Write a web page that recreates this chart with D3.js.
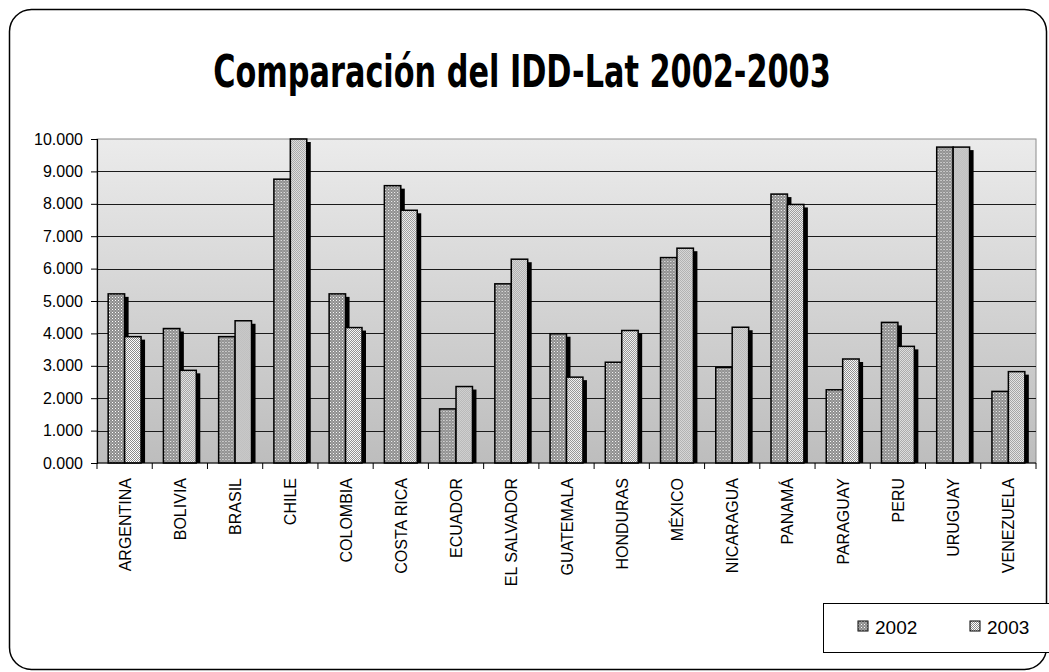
<!DOCTYPE html>
<html>
<head>
<meta charset="utf-8">
<script src="https://cdn.jsdelivr.net/npm/d3@7"></script>
<style>
  html, body { margin: 0; padding: 0; background: #fff; }
  svg { display: block; }
</style>
</head>
<body>
<svg id="chart" width="1049" height="672"></svg>
<script>
const countries = ['ARGENTINA', 'BOLIVIA', 'BRASIL', 'CHILE', 'COLOMBIA', 'COSTA RICA', 'ECUADOR',
    'EL SALVADOR', 'GUATEMALA', 'HONDURAS', 'MÉXICO', 'NICARAGUA', 'PANAMÁ', 'PARAGUAY', 'PERU',
    'URUGUAY', 'VENEZUELA'];
const years = ['2002', '2003'];
const idd2002 = [5.22, 4.15, 3.90, 8.76, 5.22, 8.56, 1.67, 5.53, 3.99, 3.11, 6.34, 2.95, 8.30, 2.26, 4.34, 9.75, 2.21];
const idd2003 = [3.90, 2.86, 4.39, 10.00, 4.18, 7.80, 2.36, 6.29, 2.65, 4.09, 6.63, 4.19, 7.98, 3.21, 3.60, 9.75, 2.82];
const yTicks = [0, 1, 2, 3, 4, 5, 6, 7, 8, 9, 10];

const PLOT_LEFT = 97;
const PLOT_RIGHT = 1036;
const PLOT_TOP = 139;
const PLOT_BOTTOM = 463;
const SHADOW_DX = 4;
const SHADOW_DY = 3;
const TITLE_WIDTH = 618;

const svg = d3.select('#chart');
const defs = svg.append('defs');

// background of the plot area: light on top, darker near the axis
const grad = defs.append('linearGradient')
    .attr('id', 'plotBg')
    .attr('x1', 0).attr('y1', 0).attr('x2', 0).attr('y2', 1);
grad.append('stop').attr('offset', '0%').attr('stop-color', '#ebebeb');
grad.append('stop').attr('offset', '100%').attr('stop-color', '#bdbdbd');

// 2002: gray with fine white dots
const p1 = defs.append('pattern')
    .attr('id', 'pat2002')
    .attr('width', 3).attr('height', 3)
    .attr('patternUnits', 'userSpaceOnUse');
p1.append('rect').attr('width', 3).attr('height', 3).attr('fill', '#8c8c8c');
p1.append('rect').attr('x', 0).attr('y', 0).attr('width', 1).attr('height', 1).attr('fill', '#ffffff');
p1.append('rect').attr('x', 1.5).attr('y', 1.5).attr('width', 1).attr('height', 1).attr('fill', '#d8d8d8');

// 2003: light checker
const p2 = defs.append('pattern')
    .attr('id', 'pat2003')
    .attr('width', 2).attr('height', 2)
    .attr('patternUnits', 'userSpaceOnUse');
p2.append('rect').attr('width', 2).attr('height', 2).attr('fill', '#ffffff');
p2.append('rect').attr('x', 1).attr('y', 0).attr('width', 1).attr('height', 1).attr('fill', '#8a8a8a');
p2.append('rect').attr('x', 0).attr('y', 1).attr('width', 1).attr('height', 1).attr('fill', '#8a8a8a');

const fills = { '2002': 'url(#pat2002)', '2003': 'url(#pat2003)' };

// outer frame
svg.append('rect')
    .attr('x', 9.5).attr('y', 9.5)
    .attr('width', 1037).attr('height', 660)
    .attr('rx', 22).attr('ry', 22)
    .attr('fill', '#fff')
    .attr('stroke', '#000')
    .attr('stroke-width', 1.5);

// title: squeeze horizontally to the width seen in the picture
const title = svg.append('text')
    .attr('x', 0)
    .attr('y', 0)
    .attr('text-anchor', 'middle')
    .attr('font-family', 'DejaVu Sans')
    .attr('font-weight', 'bold')
    .attr('font-size', 44)
    .text('Comparación del IDD-Lat 2002-2003');
const titleLen = title.node().getComputedTextLength();
title.attr('transform', `translate(522,87) scale(${TITLE_WIDTH / titleLen},1)`);

const x = d3.scaleBand()
    .domain(countries)
    .range([PLOT_LEFT, PLOT_RIGHT])
    .padding(0);

const xInner = d3.scaleBand()
    .domain(years)
    .range([0, x.bandwidth()])
    .paddingInner(0)
    .paddingOuter(0.68);

const y = d3.scaleLinear()
    .domain([0, 10])
    .range([PLOT_BOTTOM, PLOT_TOP]);

// plot area
svg.append('rect')
    .attr('x', PLOT_LEFT).attr('y', PLOT_TOP)
    .attr('width', PLOT_RIGHT - PLOT_LEFT)
    .attr('height', PLOT_BOTTOM - PLOT_TOP)
    .attr('fill', 'url(#plotBg)')
    .attr('stroke', '#8c8c8c')
    .attr('stroke-width', 1);

// gridlines
svg.append('g')
    .selectAll('line')
    .data(yTicks.filter((d) => d > 0 && d < 10))
    .join('line')
    .attr('x1', PLOT_LEFT).attr('x2', PLOT_RIGHT)
    .attr('y1', (d) => Math.round(y(d)) + 0.5)
    .attr('y2', (d) => Math.round(y(d)) + 0.5)
    .attr('stroke', '#1a1a1a')
    .attr('stroke-width', 1);

const rows = countries.map((c, i) => ({ country: c, values: [
    { year: '2002', value: idd2002[i] },
    { year: '2003', value: idd2003[i] }
] }));

const groups = svg.append('g')
    .selectAll('g')
    .data(rows)
    .join('g')
    .attr('transform', (d) => `translate(${x(d.country)},0)`);

// drop shadow behind each bar
groups.selectAll('rect.shadow')
    .data((d) => d.values)
    .join('rect')
    .attr('class', 'shadow')
    .attr('x', (d) => xInner(d.year) + SHADOW_DX)
    .attr('y', (d) => y(d.value) + SHADOW_DY)
    .attr('width', xInner.bandwidth())
    .attr('height', (d) => PLOT_BOTTOM - y(d.value) - SHADOW_DY)
    .attr('fill', '#000');

groups.selectAll('rect.bar')
    .data((d) => d.values)
    .join('rect')
    .attr('class', 'bar')
    .attr('x', (d) => xInner(d.year))
    .attr('y', (d) => y(d.value))
    .attr('width', xInner.bandwidth())
    .attr('height', (d) => PLOT_BOTTOM - y(d.value))
    .attr('fill', (d) => fills[d.year])
    .attr('stroke', '#000')
    .attr('stroke-width', 1.5);

// y axis
const yAxis = svg.append('g')
    .attr('transform', `translate(${PLOT_LEFT},0)`)
    .call(d3.axisLeft(y)
        .tickValues(yTicks)
        .tickFormat(d3.format('.3f'))
        .tickSize(6)
        .tickPadding(8));
yAxis.select('.domain').attr('stroke', '#000').attr('stroke-width', 1.2);
yAxis.selectAll('.tick line').attr('stroke', '#000');
yAxis.selectAll('.tick text')
    .attr('font-family', 'Liberation Sans, Arial, sans-serif')
    .attr('font-size', 16)
    .attr('fill', '#000');

// x axis: ticks between categories, labels rotated
const xAxis = svg.append('g')
    .attr('transform', `translate(0,${PLOT_BOTTOM})`);
xAxis.append('line')
    .attr('x1', PLOT_LEFT).attr('x2', PLOT_RIGHT)
    .attr('y1', 0).attr('y2', 0)
    .attr('stroke', '#000')
    .attr('stroke-width', 1.2);
xAxis.selectAll('line.tick')
    .data(countries.concat(['_end']))
    .join('line')
    .attr('class', 'tick')
    .attr('x1', (d, i) => PLOT_LEFT + i * x.step())
    .attr('x2', (d, i) => PLOT_LEFT + i * x.step())
    .attr('y1', 0).attr('y2', 6)
    .attr('stroke', '#000');
xAxis.selectAll('text')
    .data(countries)
    .join('text')
    .attr('transform', (d) => `translate(${x(d) + x.bandwidth() / 2 + 6},15) rotate(-90)`)
    .attr('text-anchor', 'end')
    .attr('font-family', 'Liberation Sans, Arial, sans-serif')
    .attr('font-size', 16)
    .attr('fill', '#000')
    .text((d) => d);

// legend
const legend = svg.append('g').attr('transform', 'translate(823,603)');
legend.append('rect')
    .attr('x', 0.5).attr('y', 0.5)
    .attr('width', 240).attr('height', 49)
    .attr('fill', '#fff')
    .attr('stroke', '#000')
    .attr('stroke-width', 1);
const legendX = d3.scalePoint().domain(years).range([35, 147]);
const items = legend.selectAll('g.item')
    .data(years)
    .join('g')
    .attr('class', 'item')
    .attr('transform', (d) => `translate(${legendX(d)},0)`);
items.append('rect')
    .attr('x', 0).attr('y', 18)
    .attr('width', 10).attr('height', 10)
    .attr('fill', (d) => fills[d])
    .attr('stroke', '#000')
    .attr('stroke-width', 1);
items.append('text')
    .attr('x', 17).attr('y', 31)
    .attr('font-family', 'Liberation Sans, Arial, sans-serif')
    .attr('font-size', 19)
    .attr('fill', '#000')
    .text((d) => d);
</script>
</body>
</html>
